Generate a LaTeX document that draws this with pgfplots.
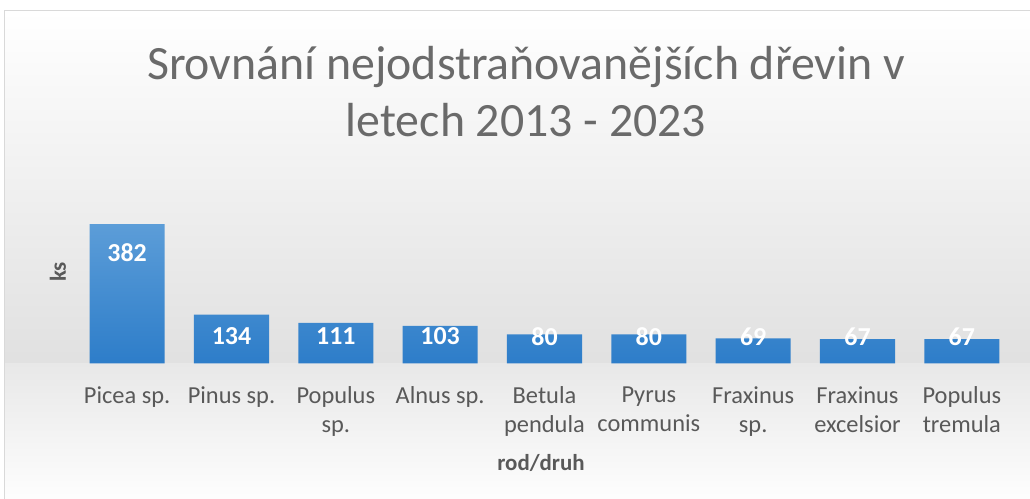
\documentclass[border=0pt]{standalone}
\usepackage{pgfplots}
\pgfplotsset{compat=1.18}
\usepackage{fontspec}
\setmainfont{Carlito}
\definecolor{txt}{HTML}{595959}
\definecolor{bartop}{RGB}{92,157,216}
\definecolor{barbot}{RGB}{45,125,201}
\pgfplotstableread{
x y
0 382
1 134
2 111
3 103
4 80
5 80
6 69
7 67
8 67
}\bars
\pgfplotstableread{
x ly lab
0 303 382
1 74 134
2 74 111
3 74 103
4 74 80
5 74 80
6 74 69
7 74 67
8 74 67
}\labs
\begin{document}
\begin{tikzpicture}
\begin{scope}[x=1bp,y=1bp]
\useasboundingbox (0,0) rectangle (1030,499);
\shade[top color=white, bottom color=black!12] (4,135) rectangle (1040,488);
\shade[top color=black!9, bottom color=white] (4,-10) rectangle (1040,135);
\draw[black!15, line width=1bp] (4,-10) -- (4,488) -- (1040,488);
\node[anchor=base, text=txt!90, font=\fontsize{48}{56}\selectfont] at (526,419) {Srovnání nejodstraňovanějších dřevin v};
\node[anchor=base, text=txt!90, font=\fontsize{48}{56}\selectfont] at (526,362) {letech 2013 - 2023};
\node[rotate=90, text=txt, font=\bfseries\fontsize{23}{27}\selectfont] at (58,227) {ks};
\node[text=txt, font=\bfseries\fontsize{23}{27}\selectfont] at (541,36) {rod/druh};
\end{scope}
\begin{axis}[
  at={(75bp,135.5bp)}, anchor=south west,
  scale only axis, width=939bp, height=164.3bp,
  xmin=-0.5, xmax=8.5, ymin=0, ymax=450,
  axis line style={draw=none}, major tick length=0pt,
  ytick=\empty, xtick={0,...,8},
  xticklabels={{Picea sp.},{Pinus sp.},{Populus\\sp.},{Alnus sp.},{Betula\\pendula},{Pyrus\\communis},{Fraxinus\\sp.},{Fraxinus\\excelsior},{Populus\\tremula}},
  xticklabel style={align=center, anchor=north, yshift=-20bp, text=txt, font=\fontsize{24.5}{29}\selectfont},
  clip=false,
]
\addplot[ybar, bar width=0.72, draw=none, top color=bartop, bottom color=barbot] table[x=x,y=y] {\bars};
\addplot[draw=none, mark=none, nodes near coords, point meta=explicit symbolic,
  nodes near coords style={text=white, font=\bfseries\fontsize{26}{26}\selectfont, anchor=center}]
  table[x=x, y=ly, meta=lab] {\labs};
\end{axis}
\end{tikzpicture}
\end{document}
